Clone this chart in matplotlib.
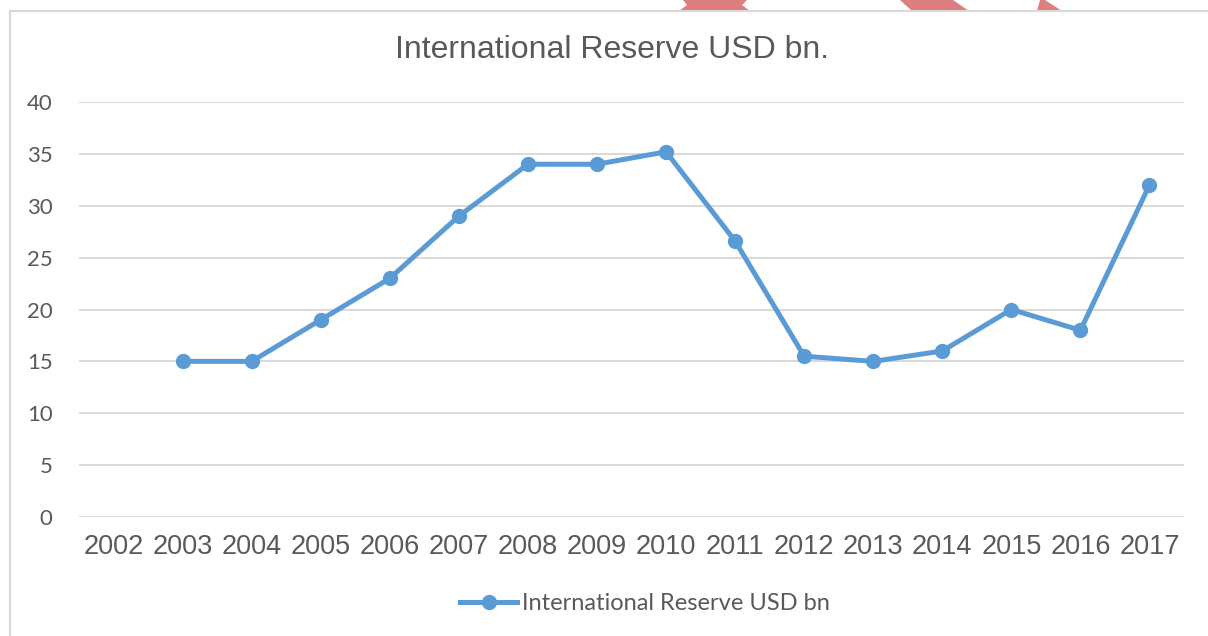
import numpy as np
import matplotlib
matplotlib.use('Agg')
import matplotlib.pyplot as plt
from matplotlib.patches import Polygon
from matplotlib.lines import Line2D

# данні: міжнародні резерви, млрд дол. США
years = ['2002', '2003', '2004', '2005', '2006', '2007', '2008', '2009',
         '2010', '2011', '2012', '2013', '2014', '2015', '2016', '2017']
reserve = [np.nan, 15, 15, 19, 23, 29, 34, 34, 35.2, 26.6, 15.5, 15, 16, 20, 18, 32]
y_ticks = [0, 5, 10, 15, 20, 25, 30, 35, 40]

title_text = 'International Reserve USD bn.'
legend_text = 'International Reserve USD bn'

grey = '#595959'
blue = '#5B9BD5'
W, H = 1208, 636

fig = plt.figure(figsize=(W / 100, H / 100), dpi=100)
ax = fig.add_axes([79 / W, 1 - 517 / H, (1184 - 79) / W, (517 - 102) / H])

x = np.arange(len(years))
ax.plot(x, reserve, color=blue, lw=3.6, marker='o', ms=10,
        solid_capstyle='round', zorder=3)

ax.set_xlim(-0.5, len(years) - 0.5)
ax.set_ylim(0, 40)
ax.set_yticks(y_ticks)
ax.set_yticklabels([str(v) for v in y_ticks], family='Lato', fontsize=16, color=grey)
ax.set_xticks(x)
ax.set_xticklabels(years, family='Liberation Sans', fontsize=19.5, color=grey)
ax.tick_params(length=0)
ax.tick_params(axis='y', pad=19)
ax.tick_params(axis='x', pad=12)
ax.grid(axis='y', color='#D9D9D9', lw=1.4)
ax.set_axisbelow(True)
for s in ax.spines.values():
    s.set_visible(False)

fig.text(612 / W, 1 - 50 / H, title_text, ha='center', va='center',
         family='Liberation Sans', fontsize=23, color=grey)

# легенда під графіком
handle = Line2D([], [], color=blue, lw=3.6, marker='o', ms=10)
fig.legend([handle], [legend_text], loc='center', bbox_to_anchor=(645 / W, 1 - 604 / H),
           frameon=False, prop={'family': 'Lato', 'size': 17}, labelcolor=grey,
           handlelength=2.4, handletextpad=0.2)

# рамка області діаграми
fig.add_artist(Line2D([10 / W, 10 / W], [0, 1 - 11 / H], color='#D9D9D9', lw=1.5))
fig.add_artist(Line2D([10 / W, 1], [1 - 11 / H, 1 - 11 / H], color='#D9D9D9', lw=1.5))

# червоні фрагменти зверху
shapes = [
    [(683, 0), (687, 5), (679, 11), (750, 11), (742, 5), (747, 0)],
    [(900, 0), (953, 0), (969, 11), (912, 11)],
    [(1040, 0), (1045, 0), (1062, 11), (1037, 11)],
]
for pts in shapes:
    poly = Polygon([(px / W, 1 - py / H) for px, py in pts], closed=True,
                   transform=fig.transFigure, facecolor='#DF7E7E', edgecolor='none')
    fig.add_artist(poly)

fig.savefig('out.png', dpi=100)
